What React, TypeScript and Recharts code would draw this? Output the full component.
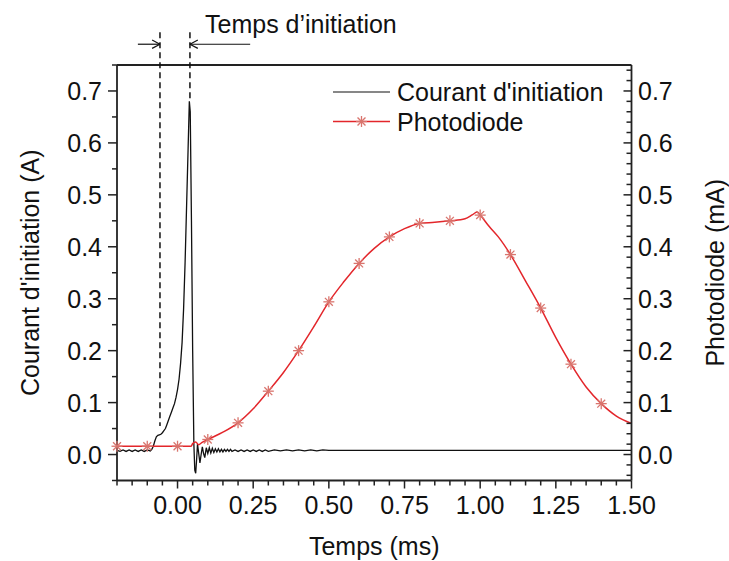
import React from "react";
import { ComposedChart, Line, XAxis, YAxis, ReferenceLine, Legend } from "recharts";

// Courant d'initiation (A) vs temps (ms)
const currentTime = [
  -0.2, -0.19, -0.18, -0.17, -0.16, -0.15, -0.14, -0.13, -0.12, -0.11, -0.1, -0.09,
  -0.085, -0.08, -0.075, -0.07, -0.065, -0.06, -0.055, -0.05, -0.045, -0.04, -0.035, -0.03,
  -0.025, -0.02, -0.015, -0.01, -0.005, 0.0, 0.005, 0.01, 0.015, 0.02, 0.025, 0.03, 0.035,
  0.039, 0.042, 0.046, 0.05, 0.054, 0.057, 0.06, 0.063, 0.066, 0.07, 0.074, 0.078, 0.082,
  0.086, 0.09, 0.095, 0.1, 0.105, 0.11, 0.115, 0.12, 0.125, 0.13, 0.135, 0.14, 0.145, 0.15,
  0.155, 0.16, 0.165, 0.17, 0.175, 0.18, 0.19, 0.2, 0.21, 0.22, 0.23, 0.24, 0.25, 0.26, 0.27,
  0.28, 0.29, 0.3, 0.32, 0.34, 0.36, 0.38, 0.4, 0.42, 0.44, 0.46, 0.48, 0.5, 0.75, 1.0, 1.25, 1.5,
];
const currentValue = [
  0.008, 0.006, 0.009, 0.006, 0.009, 0.006, 0.009, 0.006, 0.009, 0.006, 0.009, 0.007,
  0.01, 0.016, 0.026, 0.034, 0.037, 0.038, 0.039, 0.042, 0.046, 0.05, 0.058, 0.066,
  0.074, 0.082, 0.09, 0.098, 0.11, 0.125, 0.145, 0.175, 0.215, 0.28, 0.37, 0.48, 0.59,
  0.68, 0.66, 0.45, 0.2, 0.02, -0.03, -0.036, -0.01, 0.02, 0.002, -0.016, 0.0, 0.015,
  0.002, -0.006, 0.013, 0.002, 0.013, 0.003, 0.012, 0.004, 0.011, 0.005, 0.011, 0.005, 0.01, 0.005,
  0.01, 0.006, 0.01, 0.006, 0.01, 0.006, 0.009, 0.006, 0.009, 0.006, 0.009, 0.006, 0.009, 0.006, 0.009,
  0.006, 0.009, 0.006, 0.009, 0.007, 0.009, 0.007, 0.009, 0.007, 0.009, 0.007, 0.009, 0.008, 0.008, 0.008, 0.008, 0.008,
];

// Photodiode (mA)
const photoTime = [
  -0.2, -0.1, 0.0, 0.045, 0.05, 0.06, 0.07, 0.08, 0.1, 0.15, 0.2, 0.25, 0.3, 0.35, 0.4, 0.45,
  0.5, 0.55, 0.6, 0.65, 0.7, 0.75, 0.8, 0.85, 0.9, 0.95, 0.975, 0.99, 1.0, 1.03, 1.06, 1.1,
  1.15, 1.2, 1.25, 1.3, 1.35, 1.4, 1.45, 1.5,
];
const photoValue = [
  0.016, 0.016, 0.016, 0.016, 0.021, 0.024, 0.019, 0.023, 0.029, 0.043, 0.061, 0.088, 0.122, 0.158, 0.2, 0.246,
  0.294, 0.333, 0.368, 0.397, 0.419, 0.435, 0.445, 0.447, 0.45, 0.454, 0.462, 0.467, 0.461, 0.439, 0.419, 0.385,
  0.334, 0.282, 0.225, 0.174, 0.13, 0.098, 0.074, 0.06,
];
const photoMarkers = [-0.2, -0.1, 0.0, 0.1, 0.2, 0.3, 0.4, 0.5, 0.6, 0.7, 0.8, 0.9, 1.0, 1.1, 1.2, 1.3, 1.4];

const xMajor = [0, 0.25, 0.5, 0.75, 1.0, 1.25, 1.5];
const xTicks = [
  -0.2, -0.15, -0.1, -0.05, 0, 0.05, 0.1, 0.15, 0.2, 0.25, 0.3, 0.35, 0.4, 0.45, 0.5, 0.55, 0.6,
  0.65, 0.7, 0.75, 0.8, 0.85, 0.9, 0.95, 1.0, 1.05, 1.1, 1.15, 1.2, 1.25, 1.3, 1.35, 1.4, 1.45, 1.5,
];
const yMajor = [0, 0.1, 0.2, 0.3, 0.4, 0.5, 0.6, 0.7];
const yLeftTicks = [
  -0.05, 0, 0.05, 0.1, 0.15, 0.2, 0.25, 0.3, 0.35, 0.4, 0.45, 0.5, 0.55, 0.6, 0.65, 0.7, 0.75,
];
const yRightTicks = [
  -0.04, -0.02, 0, 0.02, 0.04, 0.06, 0.08, 0.1, 0.12, 0.14, 0.16, 0.18, 0.2, 0.22, 0.24, 0.26,
  0.28, 0.3, 0.32, 0.34, 0.36, 0.38, 0.4, 0.42, 0.44, 0.46, 0.48, 0.5, 0.52, 0.54, 0.56, 0.58,
  0.6, 0.62, 0.64, 0.66, 0.68, 0.7, 0.72, 0.74,
];

const currentData = currentTime.map((t, i) => ({ t, courant: currentValue[i] }));
const photoData = photoTime.map((t, i) => ({
  t,
  photo: photoValue[i],
  mark: photoMarkers.some((m) => Math.abs(m - t) < 1e-6),
}));

const AXIS = "#222";
const TEXT = "#111";
const RED = "#e3262b";
const STAR = "#d9756e";
const FONT = 25;

const isMajor = (v: number, list: number[]) => list.some((m) => Math.abs(m - v) < 1e-6);

const Star = ({ cx, cy, r = 5.5 }: { cx: number; cy: number; r?: number }) => {
  const d = r * 0.72;
  return (
    <g stroke={STAR} strokeWidth={1.3}>
      <line x1={cx - r} y1={cy} x2={cx + r} y2={cy} />
      <line x1={cx} y1={cy - r} x2={cx} y2={cy + r} />
      <line x1={cx - d} y1={cy - d} x2={cx + d} y2={cy + d} />
      <line x1={cx - d} y1={cy + d} x2={cx + d} y2={cy - d} />
    </g>
  );
};

const XTick = (props: any) => {
  const { x, y, payload } = props;
  const major = isMajor(payload.value, xMajor);
  return (
    <g>
      <line x1={x} x2={x} y1={y} y2={y + (major ? 8 : 5)} stroke={AXIS} strokeWidth={1.5} />
      {major && (
        <text x={x} y={y + 33.5} textAnchor="middle" fontSize={FONT} fill={TEXT}>
          {payload.value.toFixed(2)}
        </text>
      )}
    </g>
  );
};

const LeftTick = (props: any) => {
  const { x, y, payload } = props;
  const major = isMajor(payload.value, yMajor);
  return (
    <g>
      <line x1={x - (major ? 9 : 5)} x2={x} y1={y} y2={y} stroke={AXIS} strokeWidth={1.5} />
      {major && (
        <text x={x - 15} y={y + 9} textAnchor="end" fontSize={FONT} fill={TEXT}>
          {payload.value.toFixed(1)}
        </text>
      )}
    </g>
  );
};

const RightTick = (props: any) => {
  const { x, y, payload } = props;
  const major = isMajor(payload.value, yMajor);
  return (
    <g>
      <line x1={x - (major ? 8 : 5)} x2={x} y1={y} y2={y} stroke={AXIS} strokeWidth={1.5} />
      {major && (
        <text x={x + 6.5} y={y + 9} textAnchor="start" fontSize={FONT} fill={TEXT}>
          {payload.value.toFixed(1)}
        </text>
      )}
    </g>
  );
};

const renderLegend = () => (
  <svg width={300} height={62}>
    <line x1={0} x2={57} y1={15} y2={15} stroke={TEXT} strokeWidth={1.2} />
    <text x={64} y={15} dominantBaseline="central" fontSize={FONT} fill={TEXT}>
      Courant d'initiation
    </text>
    <line x1={0} x2={57} y1={44.5} y2={44.5} stroke={RED} strokeWidth={1.5} />
    <Star cx={28.5} cy={44.5} />
    <text x={64} y={44.5} dominantBaseline="central" fontSize={FONT} fill={TEXT}>
      Photodiode
    </text>
  </svg>
);

const renderDot = (props: any) => {
  const { cx, cy, payload, index } = props;
  if (!payload.mark) return <g key={`d${index}`} />;
  return (
    <g key={`d${index}`}>
      <Star cx={cx} cy={cy} />
    </g>
  );
};

// guide lines for the "Temps d'initiation" annotation (data coords)
const tStart = -0.058;
const tEnd = 0.041;
const arrowY = 0.79;

export default function App() {
  return (
    <div
      style={{
        position: "absolute",
        left: 0,
        top: 0,
        width: 729,
        height: 561,
        background: "#fff",
        fontFamily: "'Liberation Sans', Arial, sans-serif",
      }}
    >
      <ComposedChart
        width={729}
        height={561}
        margin={{ top: 65, right: 37.5, bottom: 20.5, left: 57 }}
      >
        <XAxis
          dataKey="t"
          type="number"
          domain={[-0.2, 1.5]}
          ticks={xTicks}
          interval={0}
          height={60}
          tickSize={0}
          tickMargin={0}
          tickLine={false}
          tick={<XTick />}
          axisLine={{ stroke: AXIS, strokeWidth: 1.8 }}
          allowDuplicatedCategory={false}
          label={{ value: "Temps (ms)", position: "center", dy: 35.5, fontSize: FONT, fill: TEXT }}
        />
        <YAxis
          yAxisId="left"
          type="number"
          domain={[-0.05, 0.75]}
          ticks={yLeftTicks}
          interval={0}
          width={60}
          tickSize={0}
          tickMargin={0}
          tickLine={false}
          tick={<LeftTick />}
          axisLine={{ stroke: AXIS, strokeWidth: 1.8 }}
          label={{
            value: "Courant d'initiation (A)",
            angle: -90,
            position: "center",
            dx: -57,
            fontSize: FONT,
            fill: TEXT,
          }}
        />
        <YAxis
          yAxisId="right"
          orientation="right"
          type="number"
          domain={[-0.05, 0.75]}
          ticks={yRightTicks}
          interval={0}
          width={60}
          tickSize={0}
          tickMargin={0}
          tickLine={false}
          tick={<RightTick />}
          axisLine={{ stroke: AXIS, strokeWidth: 1.8 }}
          label={{
            value: "Photodiode (mA)",
            angle: -90,
            position: "center",
            dx: 53.5,
            fontSize: FONT,
            fill: TEXT,
          }}
        />
        <ReferenceLine yAxisId="left" y={0.75} stroke={AXIS} strokeWidth={1.8} />
        <Line
          yAxisId="left"
          data={currentData}
          dataKey="courant"
          type="linear"
          stroke={TEXT}
          strokeWidth={1.3}
          dot={false}
          isAnimationActive={false}
          name="Courant d'initiation"
        />
        <Line
          yAxisId="right"
          data={photoData}
          dataKey="photo"
          type="monotone"
          stroke={RED}
          strokeWidth={1.5}
          dot={renderDot}
          activeDot={false}
          isAnimationActive={false}
          name="Photodiode"
        />
        {/* dashed markers bounding the initiation time */}
        <ReferenceLine
          yAxisId="left"
          ifOverflow="visible"
          segment={[{ x: tStart, y: 0.813 }, { x: tStart, y: 0.055 }]}
          stroke={TEXT}
          strokeWidth={1.5}
          strokeDasharray="6 4"
        />
        <ReferenceLine
          yAxisId="left"
          ifOverflow="visible"
          segment={[{ x: tEnd, y: 0.813 }, { x: tEnd, y: 0.685 }]}
          stroke={TEXT}
          strokeWidth={1.5}
          strokeDasharray="6 4"
        />
        <ReferenceLine
          yAxisId="left"
          ifOverflow="visible"
          segment={[{ x: -0.131, y: arrowY }, { x: tStart, y: arrowY }]}
          stroke={TEXT}
          strokeWidth={1.2}
        />
        <ReferenceLine
          yAxisId="left"
          ifOverflow="visible"
          segment={[{ x: tStart - 0.026, y: arrowY + 0.008 }, { x: tStart, y: arrowY }]}
          stroke={TEXT}
          strokeWidth={1.2}
        />
        <ReferenceLine
          yAxisId="left"
          ifOverflow="visible"
          segment={[{ x: tStart - 0.026, y: arrowY - 0.008 }, { x: tStart, y: arrowY }]}
          stroke={TEXT}
          strokeWidth={1.2}
        />
        <ReferenceLine
          yAxisId="left"
          ifOverflow="visible"
          segment={[{ x: 0.24, y: arrowY }, { x: tEnd, y: arrowY }]}
          stroke={TEXT}
          strokeWidth={1.2}
        />
        <ReferenceLine
          yAxisId="left"
          ifOverflow="visible"
          segment={[{ x: tEnd + 0.026, y: arrowY + 0.008 }, { x: tEnd, y: arrowY }]}
          stroke={TEXT}
          strokeWidth={1.2}
        />
        <ReferenceLine
          yAxisId="left"
          ifOverflow="visible"
          segment={[{ x: tEnd + 0.026, y: arrowY - 0.008 }, { x: tEnd, y: arrowY }]}
          stroke={TEXT}
          strokeWidth={1.2}
        />
        <Legend
          layout="horizontal"
          verticalAlign="middle"
          align="center"
          content={renderLegend}
          wrapperStyle={{ position: "absolute", left: 333, top: 77, width: 300, height: 62 }}
        />
      </ComposedChart>
      <div
        style={{
          position: "absolute",
          left: 205,
          top: 12,
          fontSize: FONT,
          lineHeight: "25px",
          color: TEXT,
          whiteSpace: "nowrap",
        }}
      >
        Temps d’initiation
      </div>
    </div>
  );
}
